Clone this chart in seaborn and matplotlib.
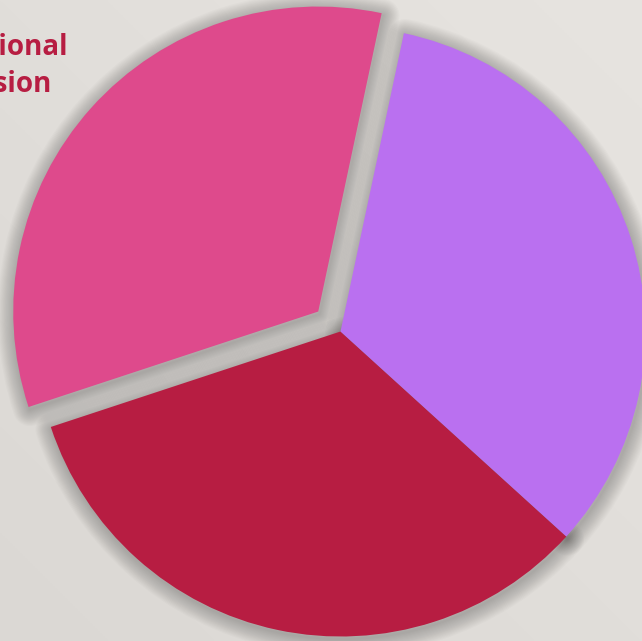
import numpy as np
import matplotlib
matplotlib.use("Agg")
import matplotlib.pyplot as plt
import seaborn as sns

# Data
categories = ["Professional Progression", "Category B", "Category C"]
values = [33.4, 33.2, 33.4]
colors = ["#de4a8c", "#b71d42", "#ba70f0"]
explode = [0.098, 0.0, 0.0]
label_lines = ["Professional", "Progression"]

sns.set_theme(style="white")
plt.rcParams["font.family"] = ["Open Sans", "DejaVu Sans"]

W, H = 642, 641
fig = plt.figure(figsize=(W / 100, H / 100), dpi=100)
ax = fig.add_axes([0, 0, 1, 1])

# background gradient
grad = np.linspace(0, 1, 256)
gx, gy = np.meshgrid(grad, grad)
t = (gx + (1 - gy)) / 2.0
c0 = np.array([0xdb, 0xd8, 0xd4]) / 255.0
c1 = np.array([0xe7, 0xe4, 0xe0]) / 255.0
img = c0[None, None, :] * (1 - t[..., None]) + c1[None, None, :] * t[..., None]

cx, cy, R = 340.5, 331.5, 305.0
xl = (-cx / R, (W - cx) / R)
yl = (-(H - cy) / R, cy / R)
ax.imshow(img, extent=[xl[0], xl[1], yl[0], yl[1]], origin="upper",
          aspect="auto", zorder=0)

startangle = 78.0
# soft shadow layers
for i in range(1, 16):
    wedges, _ = ax.pie(values, explode=explode, startangle=startangle,
                       counterclock=True,
                       colors=["none"] * 3,
                       wedgeprops=dict(linewidth=i * 1.6, edgecolor="black",
                                       alpha=0.014, joinstyle="round"),
                       center=(0.004, -0.008))
    for w in wedges:
        w.set_zorder(1)

wedges, _ = ax.pie(values, explode=explode, startangle=startangle,
                   counterclock=True, colors=colors,
                   wedgeprops=dict(linewidth=0))
for w in wedges:
    w.set_zorder(2)

ax.set_xlim(*xl)
ax.set_ylim(*yl)
ax.set_aspect("auto")
ax.axis("off")

# label (partly outside the figure, as in the reference)
fig.text(68 / W, 1 - 55 / H, label_lines[0], ha="right", va="baseline",
         fontsize=20, fontweight="bold", color="#b71d42")
fig.text(52 / W, 1 - 92 / H, label_lines[1], ha="right", va="baseline",
         fontsize=20, fontweight="bold", color="#b71d42")

fig.savefig("out.png", dpi=100)
